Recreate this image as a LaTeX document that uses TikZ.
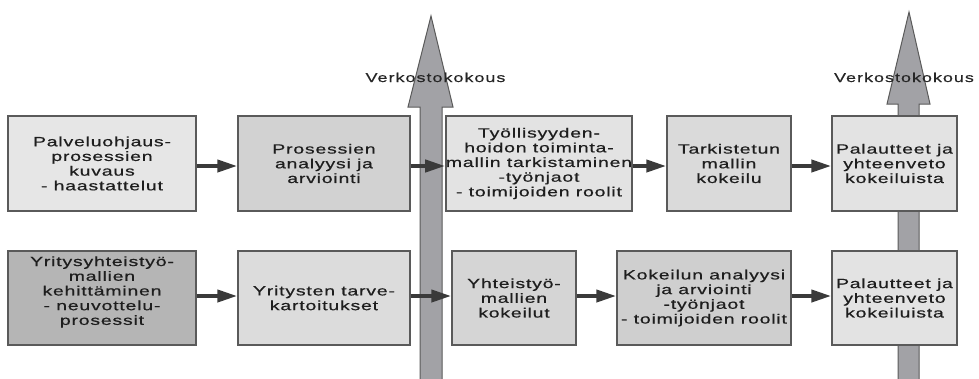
\documentclass[tikz,border=0pt]{standalone}
\usepackage{fontspec}
\setmainfont{Liberation Sans}
\newfontfamily\bxfont[FakeStretch=1.45,LetterSpace=6,FakeBold=0.6]{Liberation Sans}
\newfontfamily\lblfont[FakeStretch=1.4,LetterSpace=8,FakeBold=0.4]{Liberation Sans}
\usetikzlibrary{arrows.meta}
\definecolor{bord}{HTML}{5A5A5A}
\definecolor{txtc}{HTML}{1E1E1E}
\definecolor{arrc}{HTML}{3A3A3A}
\definecolor{shaft}{HTML}{A2A2A6}
\definecolor{fA}{HTML}{E6E6E6}
\definecolor{fB}{HTML}{D2D2D2}
\definecolor{fC}{HTML}{E3E3E3}
\definecolor{fD}{HTML}{DADADA}
\definecolor{fE}{HTML}{B5B5B5}
\definecolor{fF}{HTML}{DCDCDC}
\definecolor{fG}{HTML}{D5D5D5}
\definecolor{fH}{HTML}{CFCFCF}
\begin{document}
\begin{tikzpicture}[x=1pt,y=-1pt,
  bx/.style={draw=bord, line width=1.4pt, inner sep=0pt, text=txtc,
    font={\bxfont\fontsize{13.4pt}{14.7pt}\selectfont}, align=center},
  txt/.style={inner sep=0pt, text=txtc,
    font={\bxfont\fontsize{13.4pt}{14.7pt}\selectfont}, align=center},
  rowone/.style={minimum height=95pt},
  rowtwo/.style={minimum height=94pt},
  harr/.style={draw=arrc, line width=4pt, -{Triangle[length=20pt,width=12pt]}},
  varr/.style={draw=bord, fill=shaft, line width=1pt, line join=miter},
  lbl/.style={inner sep=0pt, anchor=base, text=black!85,
    font={\lblfont\fontsize{12.8pt}{14pt}\selectfont}}]
\useasboundingbox (0,0) rectangle (979,378);
% vertical arrows
\draw[varr] (420,385) -- (420,107) -- (408,107) -- (431,16) -- (453,107) -- (442,107) -- (442,385);
\draw[varr] (898,385) -- (898,104) -- (887,104) -- (909,12) -- (930,104) -- (919,104) -- (919,385);
% row 1
\node[bx, rowone, minimum width=188pt, fill=fA] (a1) at (102,163.5) {Palveluohjaus-\\prosessien\\kuvaus\\- haastattelut};
\node[bx, rowone, minimum width=172pt, fill=fB] (a2) at (324,163.5) {Prosessien\\analyysi ja\\arviointi};
\node[bx, rowone, minimum width=174pt, fill=fC] (a3) at (539,163.5) {Työllisyyden-\\hoidon toiminta-\\mallin tarkistaminen\\-työnjaot\\- toimijoiden roolit};
\node[bx, rowone, minimum width=124pt, fill=fD] (a4) at (729,163.5) {Tarkistetun\\mallin\\kokeilu};
\node[bx, rowone, minimum width=125pt, fill=fC] (a5) at (894.5,163.5) {Palautteet ja\\yhteenveto\\kokeiluista};
% row 2
\node[bx, rowtwo, minimum width=188pt, fill=fE] (b1) at (102,298) {};
\node[txt] (b1t) at ([yshift=6pt]b1.center) {Yritysyhteistyö-\\mallien\\kehittäminen\\- neuvottelu-\\prosessit};
\node[bx, rowtwo, minimum width=172pt, fill=fF] (b2) at (324,298) {Yritysten tarve-\\kartoitukset};
\node[bx, rowtwo, minimum width=124pt, fill=fG] (b3) at (514,298) {Yhteistyö-\\mallien\\kokeilut};
\node[bx, rowtwo, minimum width=174pt, fill=fH] (b4) at (704,298) {Kokeilun analyysi\\ja arviointi\\-työnjaot\\- toimijoiden roolit};
\node[bx, rowtwo, minimum width=125pt, fill=fC] (b5) at (894.5,298) {Palautteet ja\\yhteenveto\\kokeiluista};
% horizontal arrows
\draw[harr] ([yshift=-2.5pt]a1.east) -- ([yshift=-2.5pt]a2.west);
\draw[harr] ([yshift=-2.5pt]a2.east) -- ([yshift=-2.5pt]a3.west);
\draw[harr] ([yshift=-2.5pt]a3.east) -- ([yshift=-2.5pt]a4.west);
\draw[harr] ([yshift=-2.5pt]a4.east) -- ([yshift=-2.5pt]a5.west);
\draw[harr] ([yshift=2pt]b1.east) -- ([yshift=2pt]b2.west);
\draw[harr] ([yshift=2pt]b2.east) -- ([yshift=2pt]b3.west);
\draw[harr] ([yshift=2pt]b3.east) -- ([yshift=2pt]b4.west);
\draw[harr] ([yshift=2pt]b4.east) -- ([yshift=2pt]b5.west);
% labels
\node[lbl] (v1) at (435.5,82) {Verkostokokous};
\node[lbl] (v2) at (904,82) {Verkostokokous};
\end{tikzpicture}
\end{document}
